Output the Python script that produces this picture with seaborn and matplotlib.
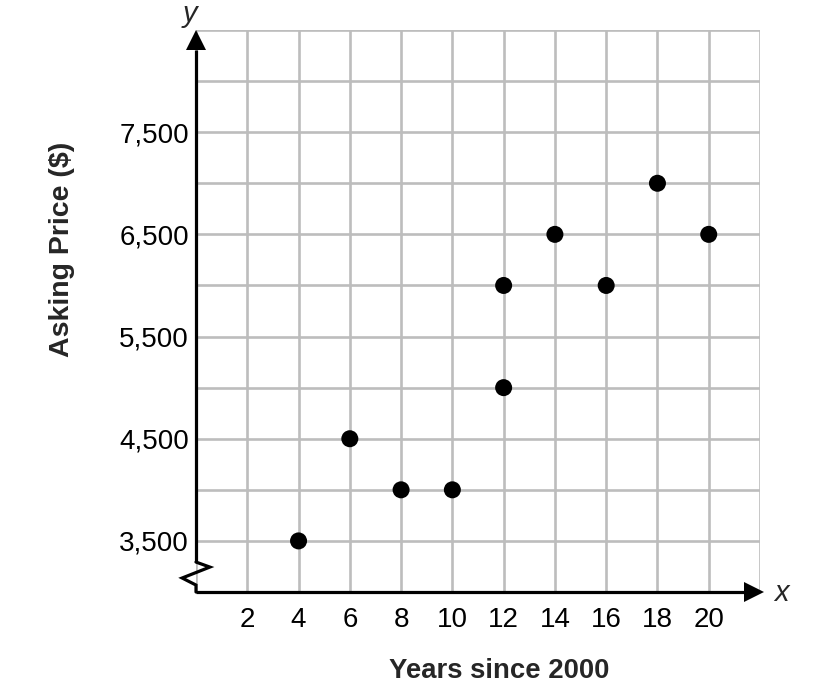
import matplotlib
matplotlib.use("Agg")
import matplotlib.pyplot as plt
import seaborn as sns
import pandas as pd
import numpy as np

# Data
years = [4, 6, 8, 10, 12, 12, 14, 16, 18, 20]
prices = [3500, 4500, 4000, 4000, 5000, 6000, 6500, 6000, 7000, 6500]
x_tick_labels = ["2", "4", "6", "8", "10", "12", "14", "16", "18", "20"]
y_tick_labels = ["3,500", "4,500", "5,500", "6,500", "7,500"]

df = pd.DataFrame({"Years since 2000": years, "Asking Price ($)": prices})

sns.set_style("white")
plt.rcParams["font.family"] = ["Liberation Sans", "DejaVu Sans"]

fig = plt.figure(figsize=(8.14, 6.94), dpi=100)
ax = fig.add_axes([196/814, 1-592/694, (760-196)/814, (592-30)/694])

XMIN, XMAX = 0, 22
YMIN, YMAX = 3000, 8500
ax.set_xlim(XMIN, XMAX)
ax.set_ylim(YMIN, YMAX)

# grid
xt = np.arange(0, 23, 2)
yt = np.arange(3000, 8501, 500)
ax.set_xticks(xt)
ax.set_yticks(yt)
xl = [""] + x_tick_labels + [""]
yl = []
it = iter(y_tick_labels)
for v in yt:
    yl.append(next(it) if (v - 3500) % 1000 == 0 and v <= 7500 else "")
ax.set_xticklabels(xl)
ax.set_yticklabels(yl)
ax.tick_params(axis="both", length=0, labelsize=20, colors="black")
ax.tick_params(axis="x", pad=11)
ax.tick_params(axis="y", pad=5)
ax.grid(True, color="#bdbdbd", linewidth=1.9)
for s in ax.spines.values():
    s.set_visible(False)

sns.scatterplot(data=df, x="Years since 2000", y="Asking Price ($)", ax=ax,
                color="black", s=150, edgecolor="none", zorder=5, clip_on=False)
ax.set_xlabel("")
ax.set_ylabel("")

lw = 2.3
# x axis with arrow
ax.plot([0, 21.5], [3000, 3000], color="black", lw=lw, clip_on=False, zorder=6,
        solid_capstyle="butt")
ax.plot([21.75], [3000], marker=">", color="black", markersize=14, clip_on=False,
        zorder=6, markeredgewidth=0)
# y axis with break and arrow
ax.plot([0, 0], [3293, 8300], color="black", lw=lw, clip_on=False, zorder=6,
        solid_capstyle="butt")
ax.plot([0, 0.54, -0.54, 0, 0], [3293, 3244, 3137, 3068, 3000], color="black",
        lw=lw, clip_on=False, zorder=6, solid_joinstyle="miter")
ax.plot([0], [8405], marker="^", color="black", markersize=14, clip_on=False,
        zorder=6, markeredgewidth=0)

fig.text(190/814, 1-14/694, "y", fontsize=21, style="italic", ha="center", va="center")
fig.text(781/814, 1-593/694, "x", fontsize=21, style="italic", ha="center", va="center")
fig.text(499/814, 1-671/694, "Years since 2000", fontsize=19.8, fontweight="bold",
         ha="center", va="center")
fig.text(62/814, 1-249/694, "Asking Price ($)", fontsize=20.5, fontweight="bold",
         ha="center", va="center", rotation=90)

fig.savefig("out.png", dpi=100)
